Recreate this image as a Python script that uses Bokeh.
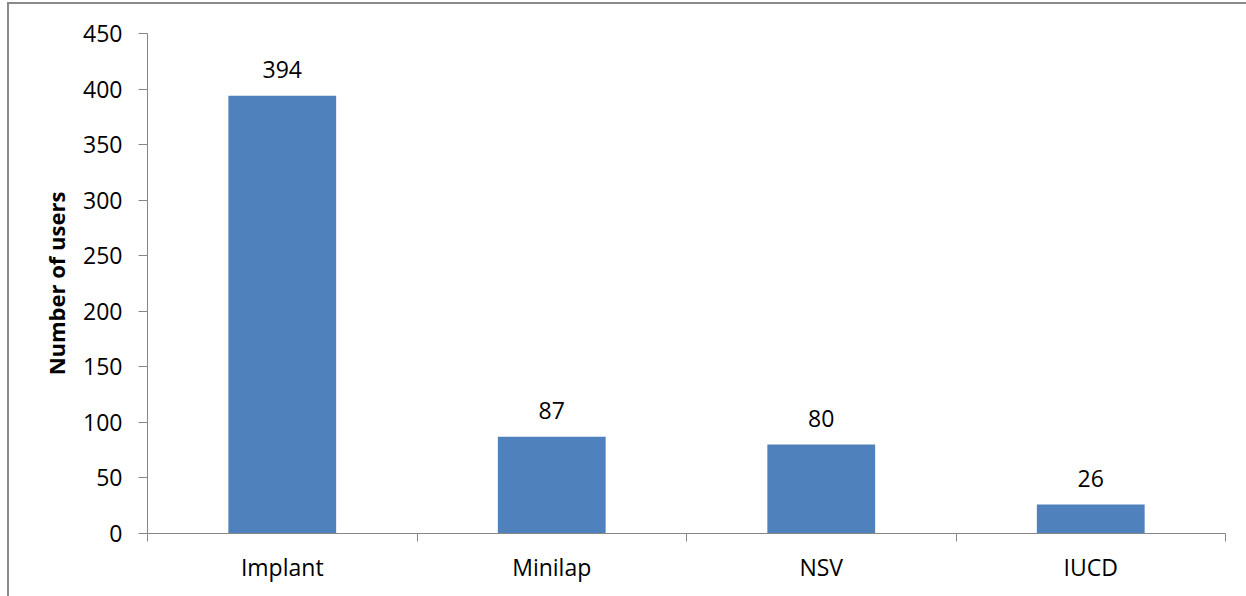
from bokeh.plotting import figure
from bokeh.models import ColumnDataSource, LabelSet, FixedTicker, Range1d
from bokeh.layouts import column
from bokeh.core.properties import value
from bokeh.embed import file_html
from bokeh.resources import INLINE

categories = ["Implant", "Minilap", "NSV", "IUCD"]
users = [394, 87, 80, 26]
y_ticks = [0, 50, 100, 150, 200, 250, 300, 350, 400, 450]

xpos = [i + 0.5 for i in range(len(categories))]
src = ColumnDataSource(dict(x=xpos, top=users, lab=[str(v) for v in users]))

FONT = "Open Sans"
FS = "23px"
p = figure(width=1237, height=592, output_backend="svg", toolbar_location=None,
           x_range=Range1d(0, len(categories)), y_range=Range1d(0, 450),
           min_border_left=138, min_border_right=21, min_border_top=29, min_border_bottom=63)
p.outline_line_color = None
p.xgrid.grid_line_color = None
p.ygrid.grid_line_color = None

p.vbar(x="x", top="top", width=0.4, bottom=0, source=src, fill_color="#4F81BD", line_color=None)

labels = LabelSet(x="x", y="top", text="lab", source=src, y_offset=18, text_align="center",
                  text_baseline="alphabetic", text_font=value(FONT), text_font_size=value(FS),
                  text_color="#000000")
p.add_layout(labels)

ax = p.yaxis[0]
ax.ticker = FixedTicker(ticks=y_ticks)
ax.axis_line_color = "#868686"
ax.major_tick_line_color = "#868686"
ax.major_tick_out = 9
ax.major_tick_in = 0
ax.minor_tick_line_color = None
ax.major_label_text_font = FONT
ax.major_label_text_font_size = FS
ax.major_label_text_color = "#000000"
ax.major_label_standoff = 16
ax.axis_label = "Number of users"
ax.axis_label_text_font = FONT
ax.axis_label_text_font_size = "22px"
ax.axis_label_text_font_style = "bold"
ax.axis_label_text_color = "#000000"
ax.axis_label_standoff = 9

bx = p.xaxis[0]
bx.ticker = FixedTicker(ticks=xpos, minor_ticks=list(range(len(categories) + 1)))
bx.major_label_overrides = {x: c for x, c in zip(xpos, categories)}
bx.axis_line_color = "#868686"
bx.major_tick_line_color = None
bx.major_tick_out = 0
bx.major_tick_in = 0
bx.minor_tick_line_color = "#868686"
bx.minor_tick_out = 8
bx.minor_tick_in = 0
bx.major_label_text_font = FONT
bx.major_label_text_font_size = FS
bx.major_label_text_color = "#000000"
bx.major_label_standoff = 9

layout = column(p, margin=(2, 0, 0, 7),
                styles={"border-left": "2px solid #8a8a8a", "border-top": "2px solid #8a8a8a"})

open("out.html", "w").write(file_html(layout, INLINE))
